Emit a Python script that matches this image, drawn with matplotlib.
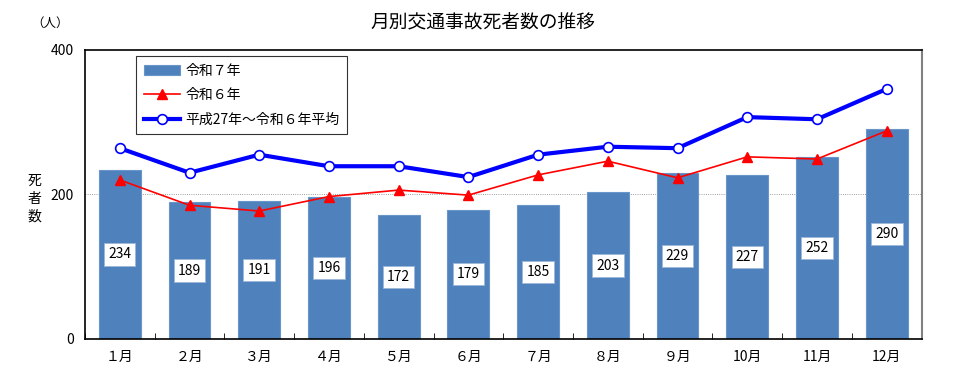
import numpy as np
import matplotlib
matplotlib.use("Agg")
import matplotlib.pyplot as plt

plt.rcParams['font.family'] = ['Noto Sans CJK JP', 'DejaVu Sans']

# データ
months = ['１月', '２月', '３月', '４月', '５月', '６月', '７月', '８月', '９月', '10月', '11月', '12月']
r7 = [234, 189, 191, 196, 172, 179, 185, 203, 229, 227, 252, 290]
r6 = [220, 185, 177, 197, 206, 199, 227, 246, 223, 252, 249, 288]
avg = [264, 230, 255, 239, 239, 224, 255, 266, 264, 307, 304, 346]

x = np.arange(len(months))

fig = plt.figure(figsize=(9.65, 3.9), dpi=100)
ax = fig.add_axes([0.088, 0.131, 0.867, 0.741])

bars = ax.bar(x, r7, width=0.6, color='#4F81BD', edgecolor='#6A95C8', linewidth=0.8,
              label='令和７年', zorder=2)
l6, = ax.plot(x, r6, color='red', lw=1.2, marker='^', ms=7, label='令和６年', zorder=3)
la, = ax.plot(x, avg, color='blue', lw=3, marker='o', ms=7, markerfacecolor='white',
              markeredgecolor='blue', markeredgewidth=1.2, label='平成27年～令和６年平均', zorder=4)

# 棒の中の数値
for xi, v in zip(x, r7):
    ax.text(xi, v / 2, str(v), ha='center', va='center', fontsize=10,
            bbox=dict(facecolor='white', edgecolor='#9DB7D9', pad=3, linewidth=0.6), zorder=5)

ax.set_xlim(-0.5, 11.5)
ax.set_ylim(0, 400)
ax.set_yticks([0, 200, 400])
ax.tick_params(axis='y', length=0, labelsize=10, pad=8)
ax.set_xticks(x)
ax.set_xticklabels(months, fontsize=10)
ax.tick_params(axis='x', length=0, pad=8)
# 区切りの目盛り
ax.set_xticks(np.arange(-0.5, 12, 1), minor=True)
ax.tick_params(axis='x', which='minor', length=4, direction='in')
ax.axhline(200, color='gray', lw=0.6, ls=':', zorder=1)

ax.spines['right'].set_color('gray')
ax.spines['right'].set_linewidth(1.5)
for s in ['left', 'top', 'bottom']:
    ax.spines[s].set_linewidth(1.2)

leg = ax.legend([bars, l6, la], ['令和７年', '令和６年', '平成27年～令和６年平均'],
                loc='upper left', bbox_to_anchor=(0.061, 0.979), fontsize=10,
                frameon=True, fancybox=False, edgecolor='black', handlelength=2.6,
                labelspacing=0.75, borderpad=0.55, handletextpad=0.4, borderaxespad=0)
leg.get_frame().set_linewidth(0.8)

fig.text(0.5, 0.945, '月別交通事故死者数の推移', ha='center', va='center', fontsize=13.5)
fig.text(0.052, 0.94, '（人）', ha='center', va='center', fontsize=9)
fig.text(0.036, 0.49, '死\n者\n数', ha='center', va='center', fontsize=10, linespacing=1.35)

plt.savefig('out.png', dpi=100)
